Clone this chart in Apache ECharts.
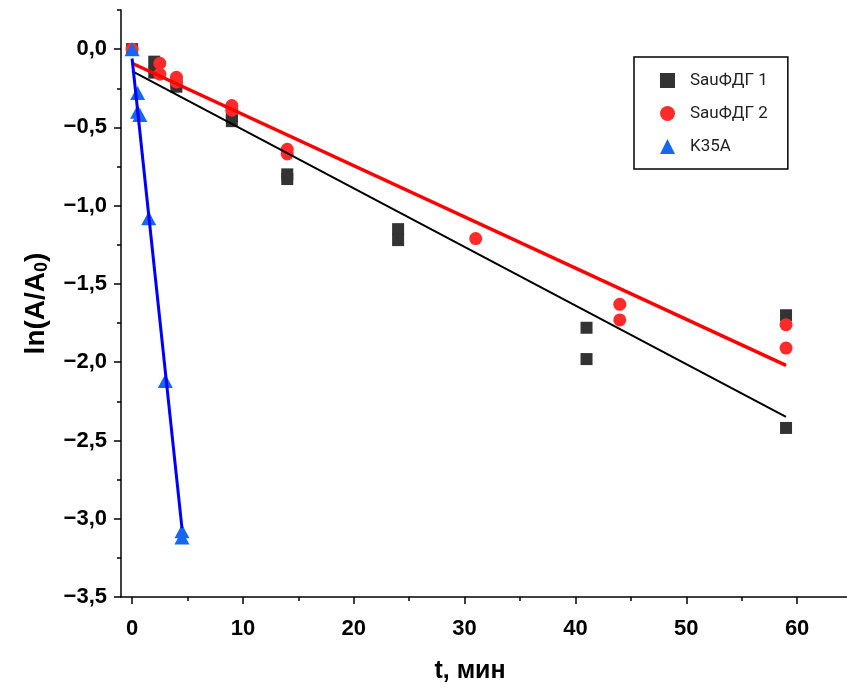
<!DOCTYPE html>
<html>
<head>
<meta charset="utf-8">
<script src="https://cdn.jsdelivr.net/npm/echarts@6.0.0/dist/echarts.min.js"></script>
<style>
  html, body { margin: 0; padding: 0; background: #fff; }
  #chart { width: 847px; height: 691px; }
</style>
</head>
<body>
<div id="chart"></div>
<script>
// точки
const sau1T = [0, 2, 2, 4, 4, 9, 9, 14, 14, 24, 24, 41, 41, 59, 59]
const sau1Y = [0, -0.08, -0.15, -0.21, -0.24, -0.43, -0.46, -0.80, -0.83, -1.15, -1.22, -1.78, -1.98, -1.70, -2.42]

const sau2T = [0, 2.5, 2.5, 4, 4, 9, 9, 14, 14, 31, 44, 44, 59, 59]
const sau2Y = [0, -0.09, -0.16, -0.18, -0.21, -0.36, -0.39, -0.64, -0.67, -1.21, -1.63, -1.73, -1.76, -1.91]

const k35T = [0, 0.5, 0.5, 0.7, 1.5, 3, 4.5, 4.5]
const k35Y = [0, -0.28, -0.40, -0.42, -1.08, -2.12, -3.08, -3.12]

// линейные аппроксимации (концы линий)
const sau1FitT = [0, 59]
const sau1FitY = [-0.14, -2.35]
const sau2FitT = [0, 59]
const sau2FitY = [-0.09, -2.02]
const k35FitT = [0, 4.5]
const k35FitY = [-0.06, -3.06]

// деления осей
const xTicks = [0, 10, 20, 30, 40, 50, 60]
const xMinorTicks = [5, 15, 25, 35, 45, 55]
const yTicks = [-3.5, -3, -2.5, -2, -1.5, -1, -0.5, 0]
const yMinorTicks = [-3.25, -2.75, -2.25, -1.75, -1.25, -0.75, -0.25, 0.25]

const seriesNames = ['SauФДГ 1', 'SauФДГ 2', 'K35A']

function zip(xs, ys) {
  return xs.map((x, i) => [x, ys[i]])
}

function fmtY(v) {
  return v.toFixed(1).replace('.', ',').replace('-', '\u2212')
}

const labelFont = {
  color: '#000',
  fontFamily: 'Liberation Sans, Arial, sans-serif',
  fontWeight: 'bold',
  fontSize: 22
}

const tickLine = { color: '#000', width: 1.5 }

const chart = echarts.init(document.getElementById('chart'))

const option = {
  animation: false,
  backgroundColor: '#fff',
  grid: { left: 121, right: 0, top: 10, bottom: 94, outerBoundsMode: 'none' },
  legend: {
    orient: 'vertical',
    left: 634,
    top: 57,
    data: seriesNames,
    padding: [15, 20, 14, 26],
    itemGap: 16,
    itemWidth: 15,
    itemHeight: 15,
    borderColor: '#000',
    borderWidth: 1.5,
    textStyle: { color: '#222', fontFamily: 'Roboto, sans-serif', fontSize: 17, padding: [0, 0, 0, 10] }
  },
  xAxis: [
    {
      type: 'value',
      min: -1,
      max: 64.5,
      position: 'bottom',
      name: 't, мин',
      nameLocation: 'middle',
      nameGap: 62,
      nameTextStyle: { ...labelFont, fontSize: 25, padding: [0, 28, 0, 0] },
      axisLine: { onZero: false, lineStyle: tickLine },
      axisTick: { customValues: xTicks, length: 7, lineStyle: tickLine },
      axisLabel: { customValues: xTicks, margin: 21, ...labelFont },
      splitLine: { show: false }
    },
    {
      type: 'value',
      min: -1,
      max: 64.5,
      position: 'bottom',
      axisLine: { show: false, onZero: false },
      axisTick: { customValues: xMinorTicks, length: 4, lineStyle: tickLine },
      axisLabel: { show: false },
      splitLine: { show: false }
    }
  ],
  yAxis: [
    {
      type: 'value',
      min: -3.5,
      max: 0.25,
      position: 'left',
      name: '{a|ln(A/A}{s|0}{a|)}',
      nameLocation: 'middle',
      nameGap: 70,
      nameTextStyle: {
        rich: {
          a: { ...labelFont, fontSize: 28 },
          s: { ...labelFont, fontSize: 18, padding: [12, 0, 0, 0] }
        }
      },
      axisLine: { onZero: false, lineStyle: tickLine },
      axisTick: { customValues: yTicks, length: 7, lineStyle: tickLine },
      axisLabel: { customValues: yTicks, margin: 14, formatter: fmtY, ...labelFont },
      splitLine: { show: false }
    },
    {
      type: 'value',
      min: -3.5,
      max: 0.25,
      position: 'left',
      axisLine: { show: false, onZero: false },
      axisTick: { customValues: yMinorTicks, length: 4, lineStyle: tickLine },
      axisLabel: { show: false },
      splitLine: { show: false }
    }
  ],
  series: [
    {
      name: seriesNames[0],
      type: 'scatter',
      symbol: 'rect',
      symbolSize: 12,
      itemStyle: { color: '#333333', opacity: 1 },
      data: zip(sau1T, sau1Y),
      z: 2
    },
    {
      name: seriesNames[1],
      type: 'scatter',
      symbol: 'circle',
      symbolSize: 13,
      itemStyle: { color: '#ff2a2a', opacity: 1 },
      data: zip(sau2T, sau2Y),
      z: 3
    },
    {
      name: seriesNames[2],
      type: 'scatter',
      symbol: 'triangle',
      symbolSize: [15, 14],
      itemStyle: { color: '#1667f0', opacity: 1 },
      data: zip(k35T, k35Y),
      z: 4
    },
    {
      name: 'fit1',
      type: 'line',
      showSymbol: false,
      silent: true,
      lineStyle: { color: '#000', width: 2 },
      data: zip(sau1FitT, sau1FitY),
      z: 5
    },
    {
      name: 'fit2',
      type: 'line',
      showSymbol: false,
      silent: true,
      lineStyle: { color: '#ff0000', width: 3.5 },
      data: zip(sau2FitT, sau2FitY),
      z: 6
    },
    {
      name: 'fit3',
      type: 'line',
      showSymbol: false,
      silent: true,
      lineStyle: { color: '#0000ff', width: 3 },
      data: zip(k35FitT, k35FitY),
      z: 7
    }
  ]
}

chart.setOption(option)
window.addEventListener('resize', () => chart.resize())
</script>
</body>
</html>
